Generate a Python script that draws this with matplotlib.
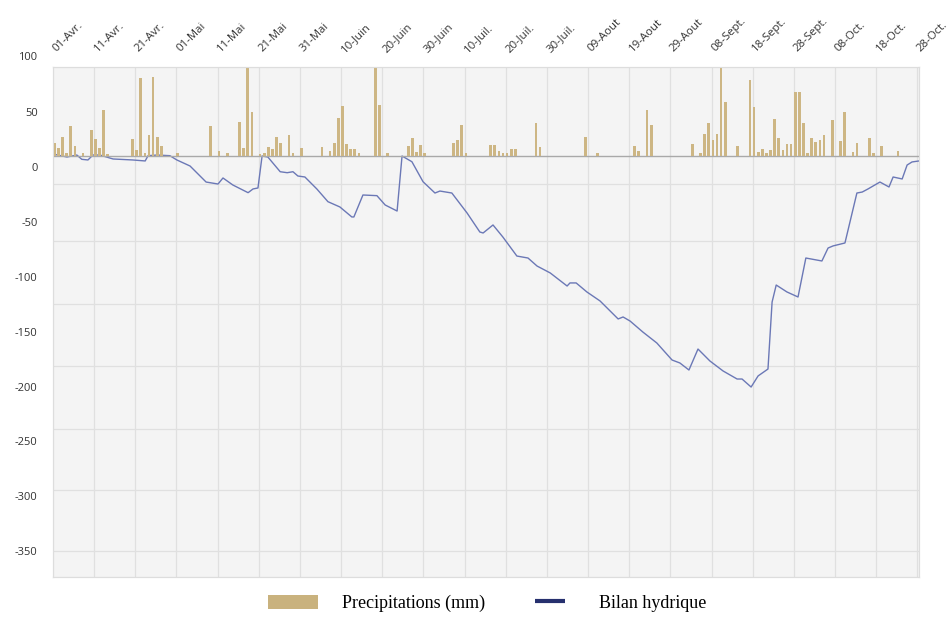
import matplotlib
matplotlib.use("Agg")
import matplotlib.pyplot as plt
from matplotlib.patches import Patch
from matplotlib.lines import Line2D
from matplotlib.transforms import ScaledTranslation

# x positions are days counted from 01-Avr.
TICK_DAYS = list(range(0, 211, 10))
TICK_LABELS = ["01-Avr.", "11-Avr.", "21-Avr.", "01-Mai", "11-Mai", "21-Mai",
               "31-Mai", "10-Juin", "20-Juin", "30-Juin", "10-Juil.", "20-Juil.",
               "30-Juil.", "09-Aout", "19-Aout", "29-Aout", "08-Sept.", "18-Sept.",
               "28-Sept.", "08-Oct.", "18-Oct.", "28-Oct."]

# daily precipitation (mm), only rainy days
RAIN_DAYS = [0, 1, 2, 3, 4, 5, 7, 9, 10, 11, 12, 13,
             19, 20, 21, 22, 23, 24, 25, 26, 30,
             38, 40, 42, 45, 46, 47, 48, 50, 51, 52, 53, 54, 55, 57, 58, 60,
             65, 67, 68, 69, 70, 71, 72, 73, 74, 78, 79, 81,
             86, 87, 88, 89, 90, 97, 98, 99, 100,
             106, 107, 108, 109, 110, 111, 112, 117, 118, 129, 132,
             141, 142, 144, 145, 155, 157, 158, 159, 160, 161, 162, 163,
             166, 169, 170, 171, 172, 173, 174, 175, 176, 177, 178, 179,
             180, 181, 182, 183, 184, 185, 186, 187, 189, 191, 192, 194,
             195, 198, 199, 201, 205]
RAIN_MM = [13, 8, 19, 3, 30, 10, 3, 26, 17, 8, 46, 2,
           17, 6, 78, 3, 21, 79, 19, 10, 3,
           30, 5, 3, 34, 8, 90, 44, 2, 3, 9, 7, 19, 13, 21, 3, 8,
           9, 5, 13, 38, 50, 12, 7, 7, 3, 90, 51, 3,
           10, 18, 4, 11, 3, 13, 16, 31, 3,
           11, 11, 5, 3, 3, 7, 7, 33, 9, 19, 3,
           10, 5, 46, 31, 12, 3, 22, 33, 16, 22, 90, 54,
           10, 76, 49, 4, 7, 3, 6, 37, 18, 6, 12, 12,
           64, 64, 33, 3, 18, 14, 16, 21, 36, 15, 44, 4,
           13, 18, 3, 10, 5]

# water balance (mm)
BILAN_DAYS = [0, 3.4, 5.8, 7.0, 8.5, 9.7, 11.4, 14.6, 19.4, 22.4, 23.1, 25.3,
              28.4, 30.1, 33.3, 37.2, 40.1, 41.3, 43.7, 47.4, 48.6, 49.8, 50.8,
              52.2, 55.2, 56.9, 58.3, 59.5, 61.2, 64.1, 66.8, 69.7, 72.6, 73.1,
              75.3, 78.7, 80.7, 83.6, 84.8, 87.2, 89.9, 92.8, 94.0, 96.9, 100.6,
              103.7, 104.5, 106.9, 109.3, 112.7, 115.4, 117.6, 120.8, 124.9,
              125.6, 127.1, 129.7, 132.9, 137.3, 138.5, 140.2, 143.3, 146.7,
              150.4, 152.3, 154.5, 156.7, 159.6, 162.8, 166.2, 167.4, 169.6,
              171.3, 173.7, 174.7, 175.7, 178.3, 181.0, 182.9, 186.8, 188.3,
              189.5, 192.4, 195.3, 196.6, 198.0, 200.9, 203.1, 204.1, 206.3,
              207.5, 208.7, 210.4]
BILAN = [11.8, 9.1, 10.9, 7.0, 6.4, 10.9, 10.9, 7.3, 6.4, 5.5, 10.3, 10.9,
         10.3, 6.4, 0.9, -13.7, -15.5, -10.0, -16.4, -23.4, -20.0, -19.1, 10.0,
         9.1, -4.3, -5.2, -4.3, -8.2, -9.1, -20.0, -31.6, -36.4, -45.5, -45.5,
         -25.5, -26.1, -34.6, -40.1, 10.0, 4.8, -13.4, -23.7, -21.9, -23.7, -41.9,
         -59.2, -60.1, -52.8, -63.8, -81.1, -82.9, -90.2, -96.5, -108.4,
         -105.6, -105.6, -113.8, -122.0, -138.4, -136.6, -140.3, -150.3, -160.3,
         -175.8, -178.5, -184.9, -165.8, -176.7, -185.8, -193.1, -193.1, -200.4,
         -190.3, -184.0, -123.0, -107.5, -113.8, -118.4, -82.9, -85.6, -73.8,
         -71.9, -69.2, -23.7, -22.8, -20.0, -13.7, -18.2, -9.1, -10.9,
         1.8, 4.6, 5.5]

Y_TICKS = list(range(-350, 51, 50))
GRID_LEVELS = [-349.7, -294.2, -238.6, -181.2, -124.8, -67.4, -15.5]

BAR_COLOR = "#cdb684"
LINE_COLOR = "#6b78b6"
TEXT_COLOR = "#333333"

fig = plt.figure(figsize=(9.51, 6.19), dpi=100)
ax = fig.add_axes([0.0557, 0.0679, 0.9107, 0.8239])
ax.set_facecolor("#f4f4f4")

ax.set_xlim(0, 210.4)
ax.set_ylim(-373.4, 91.1)

# grid
for d in TICK_DAYS[1:]:
    ax.axvline(d, color="#e0e0e0", lw=0.9, zorder=0)
for g in GRID_LEVELS:
    ax.axhline(g, color="#e0e0e0", lw=0.9, zorder=0)

ax.plot(BILAN_DAYS, BILAN, color=LINE_COLOR, lw=1.0, zorder=3)

# precipitation on its own scale, zero on the grey baseline
axb = ax.twinx()
axb.set_ylim(-421, 89)
axb.bar(RAIN_DAYS, RAIN_MM, width=0.65, align="edge", color=BAR_COLOR, zorder=2)
axb.axhline(0, color="#a9a9a9", lw=1.0, zorder=1)
axb.set_yticks([])
axb.patch.set_visible(False)

for a in (ax, axb):
    for s in a.spines.values():
        s.set_color("#dddddd")
        s.set_linewidth(0.8)

ax.set_yticks(Y_TICKS)
ax.set_yticklabels([str(v) for v in Y_TICKS], family="Open Sans",
                   fontsize=8, color=TEXT_COLOR)
ax.tick_params(axis="y", length=0, pad=11)
ax.text(-3.8, 100, "100", ha="right", va="center", family="Open Sans",
        fontsize=8, color=TEXT_COLOR, transform=ax.transData, clip_on=False)

ax.xaxis.tick_top()
ax.set_xticks(TICK_DAYS)
ax.set_xticklabels(TICK_LABELS, rotation=45, ha="left", va="bottom",
                   rotation_mode="anchor", family="Open Sans", fontsize=8.2,
                   color=TEXT_COLOR)
ax.tick_params(axis="x", length=0, pad=9)
shift = ScaledTranslation(4 / 72, 0, fig.dpi_scale_trans)
for lab in ax.get_xticklabels():
    lab.set_transform(lab.get_transform() + shift)

handles = [Patch(facecolor="#c9b27e", edgecolor="none"),
           Line2D([0], [0], color="#26306e", marker="_", linestyle="none",
                  markersize=22, markeredgewidth=3)]
fig.legend(handles, ["Precipitations (mm)", "Bilan hydrique"], loc="lower center",
           bbox_to_anchor=(0.512, -0.015), ncol=2, frameon=False,
           prop={"family": "Liberation Serif", "size": 13},
           handlelength=2.8, handleheight=0.8, columnspacing=2.2, handletextpad=1.3)

fig.savefig("out.png", dpi=100)
